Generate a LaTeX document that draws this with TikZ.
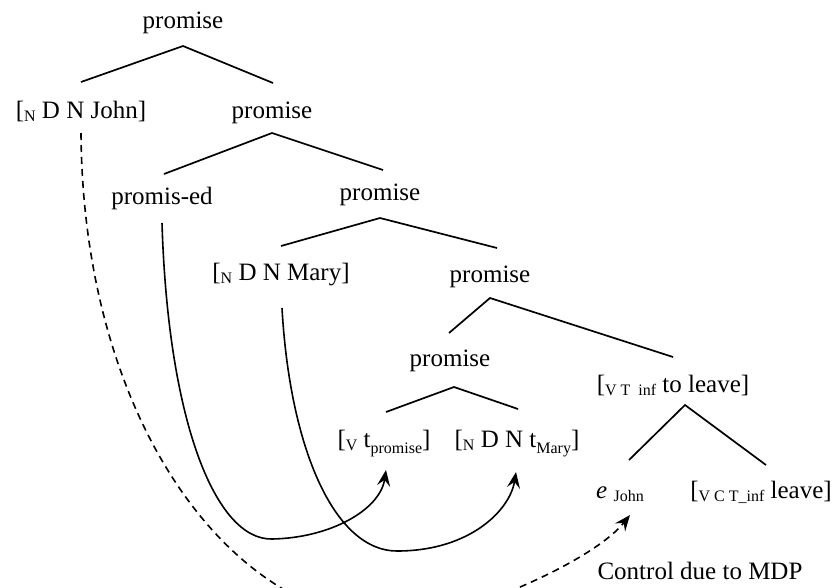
\documentclass[tikz,border=0pt]{standalone}
\usepackage{fontspec}
\setmainfont{Liberation Serif}
\usetikzlibrary{arrows.meta,calc}
% small category labels set slightly below the baseline
\newcommand\lowsub[1]{\raisebox{-0.12em}{\fontsize{16}{16}\selectfont #1}}
% trace indices
\newcommand\tsub[1]{\raisebox{-0.25em}{\fontsize{16}{16}\selectfont #1}}

\begin{document}
\begin{tikzpicture}[x=1pt,y=-1pt,
  lbl/.style={anchor=base, inner sep=0pt, font=\fontsize{25}{30}\selectfont},
  branch/.style={line width=1.7pt},
  move/.style={line width=1.6pt, -{Stealth[length=16pt,width=13pt,inset=6pt]}},
  ctrl/.style={move, dash pattern=on 7pt off 5pt}]
\useasboundingbox (0,0) rectangle (840,587);
\clip (0,0) rectangle (840,587);

% tree labels
\node[lbl] (p1)    at (183,28)  {promise};
\node[lbl] (john)  at (81,118)  {[\lowsub{N} D N John]};
\node[lbl] (p2)    at (272,118) {promise};
\node[lbl] (ed)    at (162,204) {promis-ed};
\node[lbl] (p3)    at (380,200) {promise};
\node[lbl] (mary)  at (281,280) {[\lowsub{N} D N Mary]};
\node[lbl] (p4)    at (490,282) {promise};
\node[lbl] (p5)    at (450,366) {promise};
\node[lbl] (inf)   at (673,392) {[\lowsub{V T\ \ inf} to leave]};
\node[lbl] (tpr)   at (384,447) {[\lowsub{V} t\tsub{promise}]};
\node[lbl] (tmary) at (517,447) {[\lowsub{N} D N t\tsub{Mary}]};
\node[lbl] (ejohn) at (620,498) {\textit{e} \lowsub{John}};
\node[lbl] (leave) at (761,498) {[\lowsub{V C T\_inf} leave]};
\node[lbl] (mdp)   at (700,579) {Control due to MDP};

% branch ends: below each mother, above each daughter
\coordinate (p1-b)    at (183,46);
\coordinate (john-t)  at (81,82);
\coordinate (p2-t)    at (273,83);
\coordinate (p2-b)    at (272,133);
\coordinate (ed-t)    at (164,174);
\coordinate (p3-t)    at (383,170);
\coordinate (p3-b)    at (380,218);
\coordinate (mary-t)  at (281,246);
\coordinate (p4-t)    at (497,248);
\coordinate (p4-b)    at (490,298);
\coordinate (p5-t)    at (449,333);
\coordinate (inf-t)   at (673,357);
\coordinate (p5-b)    at (454,387);
\coordinate (tpr-t)   at (386,412);
\coordinate (tmary-t) at (518,409);
\coordinate (inf-b)   at (685,405);
\coordinate (ejohn-t) at (629,460);
\coordinate (leave-t) at (766,465);

\draw[branch] (john-t) -- (p1-b) -- (p2-t);
\draw[branch] (ed-t) -- (p2-b) -- (p3-t);
\draw[branch] (mary-t) -- (p3-b) -- (p4-t);
\draw[branch] (p5-t) -- (p4-b) -- (inf-t);
\draw[branch] (tpr-t) -- (p5-b) -- (tmary-t);
\draw[branch] (ejohn-t) -- (inf-b) -- (leave-t);

% movement and control arcs
\coordinate (ed-s)     at (162,223);
\coordinate (tpr-a)    at (386,470);
\coordinate (mary-s)   at (282,308);
\coordinate (tmary-a)  at (516,472);
\coordinate (john-s)   at (81,133);
\coordinate (ejohn-a)  at (630,515);

\draw[move] (ed-s) .. controls (168,420) and (215,540) .. (272,539)
  .. controls (330,538) and (380,510) .. (tpr-a);
\draw[move] (mary-s) .. controls (290,450) and (335,551) .. (397,551)
  .. controls (470,551) and (510,510) .. (tmary-a);
\draw[ctrl] (john-s) .. controls (83,420) and (230,620) .. (395,622)
  .. controls (450,622) and (590,565) .. (ejohn-a);
\end{tikzpicture}
\end{document}
